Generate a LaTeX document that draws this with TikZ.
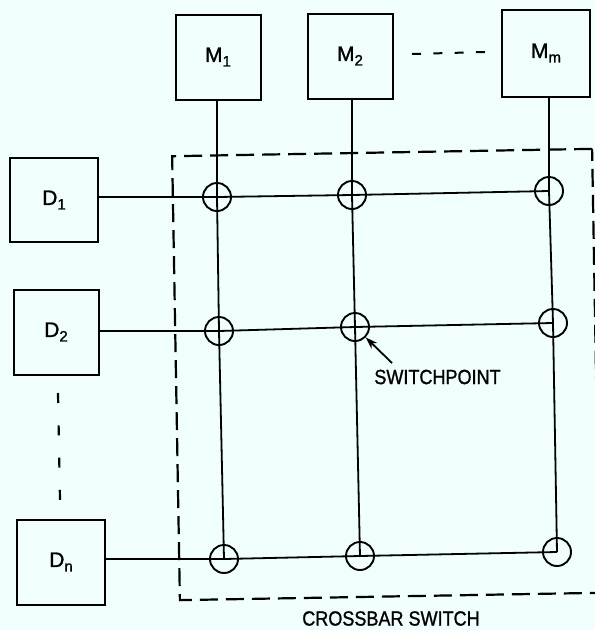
\documentclass[tikz,border=0pt]{standalone}
\usepackage{fontspec}
\setmainfont{Liberation Sans}
\newfontfamily\labfont{Liberation Sans}[FakeBold=1.2]
\usetikzlibrary{arrows.meta}
\definecolor{paper}{RGB}{240,254,254}
\newcommand\subs[1]{\raisebox{-4.5pt}{\fontsize{15}{15}\selectfont #1}}
\begin{document}
\begin{tikzpicture}[x=1pt,y=-1pt,
  unitbox/.style={draw, line width=2pt, minimum width=85pt, minimum height=85pt,
    inner sep=0pt, font=\labfont\fontsize{21}{24}\selectfont},
  wire/.style={line width=1.8pt},
  swpt/.style={draw, circle, line width=1.9pt, minimum size=28pt, inner sep=0pt},
  xbarbox/.style={draw, line width=2.2pt, dash pattern=on 18pt off 8pt,
    inner sep=0pt, minimum width=420pt, minimum height=444pt, rotate=1},
  gapline/.style={line width=2.2pt, dash pattern=on 10pt off 22.3pt},
  gapline2/.style={line width=2pt, dash pattern=on 9pt off 12.3pt},
  lab/.style={font=\labfont\fontsize{20.5}{24}\selectfont, inner sep=0pt},
  pointer/.style={line width=1.8pt, -{Stealth[length=12pt,width=8pt]}}]
\useasboundingbox (0,0) rectangle (595,630);
\fill[paper] (0,0) rectangle (595,630);

% memory modules
\node[unitbox] (M1) at (218,57) {M\subs{1}};
\node[unitbox] (M2) at (350,56) {M\subs{2}};
\node[unitbox, minimum width=88pt, minimum height=87pt] (Mm) at (546,53) {M\subs{m}};

% devices
\node[unitbox, minimum width=88pt, minimum height=84pt] (D1) at (54,200) {D\subs{1}};
\node[unitbox] (D2) at (56,332) {D\subs{2}};
\node[unitbox, minimum width=88pt] (Dn) at (61,562) {D\subs{n}};

% crossbar boundary
\node[xbarbox] (xb) at (386,374.5) {};

% switchpoints
\node[swpt] (s11) at (217,197) {};
\node[swpt] (s12) at (352,195) {};
\node[swpt] (s13) at (549,191) {};
\node[swpt] (s21) at (219,331) {};
\node[swpt] (s22) at (355,327) {};
\node[swpt] (s23) at (553,323) {};
\node[swpt] (s31) at (224,559) {};
\node[swpt] (s32) at (360,556) {};
\node[swpt] (s33) at (557,552) {};

% columns
\draw[wire] (M1.south -| s11.center) -- (s11.center) -- (s21.center) -- (s31.center);
\draw[wire] (M2.south -| s12.center) -- (s12.center) -- (s22.center) -- (s32.center);
\draw[wire] (Mm.south -| s13.center) -- (s13.center) -- (s23.center) -- (s33.center);

% rows
\draw[wire] (D1.east |- s11.center) -- (s11.center) -- (s12.center) -- (s13.center);
\draw[wire] (D2.east |- s21.center) -- (s21.center) -- (s22.center) -- (s23.center);
\draw[wire] (Dn.east |- s31.center) -- (s31.center) -- (s32.center) -- (s33.center);

% ellipsis lines
\coordinate (dA) at (58,393);
\coordinate (dB) at (60,500);
\draw[gapline] (dA) -- (dB);
\coordinate (mA) at (412,54);
\coordinate (mB) at (485,52);
\draw[gapline2] (mA) -- (mB);

% labels
\node[lab] (swlab) at (437.5,377) {\scalebox{0.88}[1]{SWITCHPOINT}};
\coordinate (swtail) at (392,363);
\draw[pointer] (swtail) -- (s22);
\node[lab] (xblab) at (391,618.5) {\scalebox{0.88}[1]{CROSSBAR SWITCH}};
\end{tikzpicture}
\end{document}
